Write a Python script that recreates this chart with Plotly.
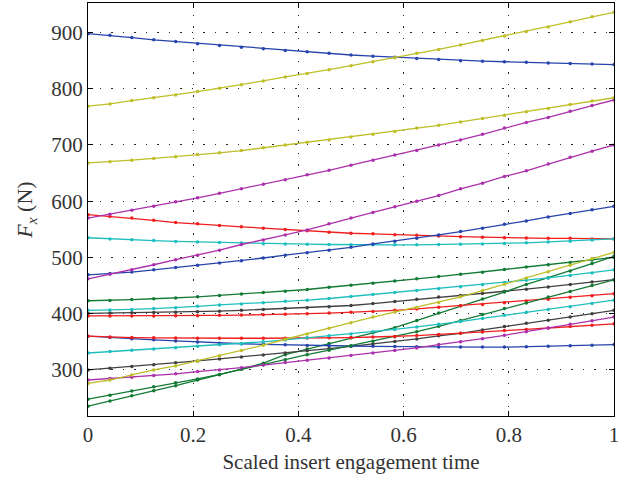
import plotly.graph_objects as go

t = [0, 0.0417, 0.0833, 0.125, 0.1667, 0.2083, 0.25, 0.2917, 0.3333, 0.375, 0.4167, 0.4583,
     0.5, 0.5417, 0.5833, 0.625, 0.6667, 0.7083, 0.75, 0.7917, 0.8333, 0.875, 0.9167, 0.9583, 1]

blue_1 = [898, 895, 891, 887, 884, 880, 877, 874, 871, 868, 866, 863, 860, 858, 856, 854, 852, 850, 849, 848, 847, 846, 845, 844, 843]
yellow_1 = [769, 773, 779, 784, 789, 795, 801, 807, 814, 821, 827, 834, 841, 848, 855, 863, 870, 878, 886, 894, 902, 910, 919, 928, 936]
yellow_2 = [668, 670, 673, 676, 679, 683, 686, 690, 695, 700, 705, 709, 714, 719, 724, 730, 735, 741, 747, 753, 759, 765, 772, 778, 784]
magenta_1 = [570, 577, 584, 591, 599, 606, 614, 622, 630, 638, 647, 655, 664, 673, 682, 690, 700, 709, 719, 730, 740, 749, 760, 770, 780]
magenta_2 = [462, 470, 478, 487, 496, 504, 513, 523, 531, 540, 549, 560, 570, 580, 590, 600, 610, 622, 632, 644, 654, 666, 678, 689, 700]
red_1 = [576, 573, 570, 566, 562, 560, 557, 554.5, 552, 549.5, 547.5, 545, 543, 542, 540.5, 539.5, 538, 537, 536, 535, 534.5, 534, 534, 533, 533]
cyan_1 = [535, 533, 531.5, 530, 528.5, 527.5, 526.5, 525.5, 524.5, 524, 523.5, 523, 522.5, 522.5, 522.5, 522.5, 523, 523.5, 524, 525, 526, 527.5, 529, 531, 533]
blue_2 = [469, 471.5, 474, 478, 482, 486, 490, 494, 499, 504, 508.5, 513, 518, 524, 529, 534, 540, 546, 552, 559, 565, 572, 578, 585, 591]
green_1 = [423, 423.5, 425, 426.5, 428, 430, 432.5, 435, 437.5, 440, 443, 447, 450.5, 454, 458, 462, 466, 470, 473.5, 478.5, 483, 487, 491, 495.5, 500]
cyan_2 = [406, 406.5, 407.5, 409, 410.5, 413, 415.5, 417.3, 419.6, 422, 424, 427, 430.5, 434, 437.5, 441, 444.5, 448, 451.5, 455.5, 459.5, 463.5, 468, 472.5, 478]
black_1 = [400.5, 401, 401.5, 402, 402.5, 403.5, 404.5, 406, 407.5, 409, 410.5, 412.5, 414.5, 418, 421.5, 425.5, 429.5, 432.5, 436, 440, 443.5, 447.5, 452, 456.5, 460.5]
red_2 = [396, 396, 396, 396, 396.5, 396.5, 397, 397.5, 398, 399, 400, 401, 402.5, 404, 406, 408.5, 411.5, 414, 416.5, 419.5, 422.5, 425.5, 429, 432, 435.5]
cyan_3 = [330, 332.5, 335, 337, 339.5, 342, 344.5, 346.7, 350, 353.3, 357, 360.5, 364, 368, 372, 376.5, 381, 386, 391.5, 397, 402.5, 407.5, 412.5, 418, 424]
red_3 = [360, 358.5, 357.5, 357, 356.5, 356.3, 356.3, 356.3, 356.3, 356.3, 356.5, 357, 357.5, 358.5, 359.5, 361, 363, 365, 367.5, 370, 372, 374.5, 377, 379.5, 382]
blue_3 = [360, 357.5, 355.5, 353.5, 351.5, 349.5, 347.5, 346.5, 345.5, 344.5, 343.5, 343, 342.5, 342, 341.5, 341, 340.5, 340.5, 340.5, 340.5, 341, 342, 343, 344, 345]
black_2 = [300, 303, 306, 309, 312.5, 316, 319.5, 323, 326.5, 330, 334, 338, 342, 346, 350.5, 355, 360.5, 365, 371, 377, 383, 388.5, 394, 400, 406]
magenta_3 = [282, 284.5, 287, 290, 293, 297, 300, 304, 308.5, 313, 317, 321, 325.5, 330, 334.5, 339, 345, 350, 355.5, 361.5, 368, 374.5, 381, 387.5, 394]
yellow_3 = [276, 282, 291, 300, 307, 316, 325, 334.3, 344, 354.5, 364, 374, 384, 394, 403, 411, 420, 430, 441, 452.5, 463.5, 474.5, 486, 498, 509]
green_2 = [235.5, 244.5, 254, 263, 272, 282, 291.5, 301.5, 312, 327, 337, 347, 357, 366, 375, 388, 401, 414, 426, 438.5, 452, 464, 476, 489, 502]
green_3 = [248, 255, 262.5, 270, 277, 284, 292, 301, 309, 318, 327, 335, 343, 351, 359, 368, 377.5, 388, 398.5, 409, 419, 429.5, 439.5, 450, 460]

C_B = "rgb(38,68,172)"
C_G = "rgb(18,122,52)"
C_R = "rgb(240,30,30)"
C_C = "rgb(30,190,190)"
C_M = "rgb(172,48,172)"
C_Y = "rgb(190,190,40)"
C_K = "rgb(64,64,64)"

series = [
    (blue_1, C_B), (green_1, C_G), (red_1, C_R), (cyan_1, C_C), (magenta_1, C_M), (yellow_1, C_Y), (black_1, C_K),
    (blue_2, C_B), (green_2, C_G), (red_2, C_R), (cyan_2, C_C), (magenta_2, C_M), (yellow_2, C_Y), (black_2, C_K),
    (blue_3, C_B), (green_3, C_G), (red_3, C_R), (cyan_3, C_C), (magenta_3, C_M), (yellow_3, C_Y),
]

fig = go.Figure()
for vals, col in series:
    fig.add_trace(go.Scatter(
        x=t, y=vals, mode="lines+markers",
        line=dict(color=col, width=1.3),
        marker=dict(color=col, size=3.5, symbol="circle"),
        showlegend=False,
    ))

FONT = "Liberation Serif, Times New Roman, serif"
axis_common = dict(
    showline=True, linecolor="black", linewidth=1.2, mirror="allticks",
    ticks="inside", ticklen=5, tickcolor="black", tickwidth=1,
    showgrid=True, gridcolor="rgba(0,0,0,0.85)", gridwidth=1, griddash="1.5px,10px",
    zeroline=False,
    tickfont=dict(family=FONT, size=21, color="#333"),
)

fig.update_layout(
    width=632, height=481,
    margin=dict(l=88, r=18, t=3, b=65),
    paper_bgcolor="white", plot_bgcolor="white",
    xaxis=dict(range=[0, 1], tickvals=[0, 0.2, 0.4, 0.6, 0.8, 1], ticktext=["0", "0.2", "0.4", "0.6", "0.8", "1"],
               title=dict(text="Scaled insert engagement time", font=dict(family=FONT, size=21, color="#333"), standoff=8),
               **axis_common),
    yaxis=dict(range=[218, 952.5], tickvals=[300, 400, 500, 600, 700, 800, 900],
               title=dict(text="<i>F</i><sub><i>x</i></sub> (N)", font=dict(family=FONT, size=22, color="#333"), standoff=12),
               **axis_common),
)

fig.write_html("out.html", config={"displayModeBar": False},
               post_script="document.body.style.margin='0';document.body.style.padding='0';")
